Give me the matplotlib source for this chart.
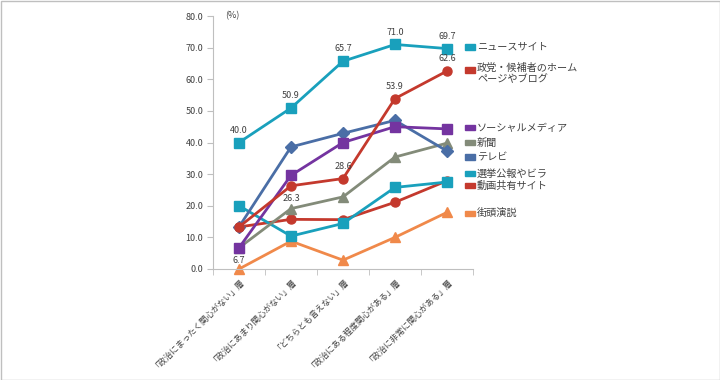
import matplotlib
matplotlib.use('Agg')
import matplotlib.pyplot as plt
from matplotlib.patches import Rectangle

plt.rcParams['font.family'] = ['Noto Sans CJK JP', 'DejaVu Sans']

# カテゴリ
categories = ['「政治にまったく関心がない」層', '「政治にあまり関心がない」層', '「どちらとも言えない」層',
              '「政治にある程度関心がある」層', '「政治に非常に関心がある」層']

# 各系列の値 (%)
news_site = [40.0, 50.9, 65.7, 71.0, 69.7]
party_home = [13.3, 26.3, 28.6, 53.9, 62.6]
social_media = [6.7, 29.6, 40.0, 45.0, 44.3]
newspaper = [6.7, 19.1, 22.8, 35.4, 39.8]
television = [13.3, 38.6, 42.9, 47.0, 37.3]
senkyo_koho = [20.0, 10.4, 14.4, 25.8, 27.5]
douga_site = [13.3, 15.7, 15.6, 21.1, 27.9]
gaito_enzetsu = [0.0, 8.8, 2.8, 10.0, 17.9]

series = [
    ('街頭演説', gaito_enzetsu, '#F0894A', '^'),
    ('動画共有サイト', douga_site, '#C4392D', 'o'),
    ('選挙公報やビラ', senkyo_koho, '#19A0BC', 's'),
    ('新聞', newspaper, '#838B79', '^'),
    ('テレビ', television, '#4A6EA6', 'D'),
    ('ソーシャルメディア', social_media, '#7434A0', 's'),
    ('政党・候補者のホーム\nページやブログ', party_home, '#C4392D', 'o'),
    ('ニュースサイト', news_site, '#19A0BC', 's'),
]

# 凡例の並び (上から) と縦位置 (px)
legend_order = ['ニュースサイト', '政党・候補者のホーム\nページやブログ', 'ソーシャルメディア', '新聞',
                'テレビ', '選挙公報やビラ', '動画共有サイト', '街頭演説']
legend_y = [47, 70, 128, 143, 157, 174, 186, 213]

W, H = 720, 380
fig = plt.figure(figsize=(W / 100, H / 100), dpi=100)
ax = fig.add_axes([213 / W, 1 - 269 / H, 260 / W, 253 / H])

x = list(range(len(categories)))
for name, vals, color, mk in series:
    ms = {'s': 6.5, 'o': 6.5, '^': 7, 'D': 6}[mk]
    ax.plot(x, vals, color=color, lw=2, marker=mk, ms=ms, label=name, clip_on=False)

txt = '#404040'
fs = 6.5
# データラベル
for i in range(5):
    ax.text(x[i], news_site[i] + 2.5, f'{news_site[i]:.1f}', ha='center', va='bottom', fontsize=fs, color=txt)
for i in [2, 3, 4]:
    ax.text(x[i], party_home[i] + 2.5, f'{party_home[i]:.1f}', ha='center', va='bottom', fontsize=fs, color=txt)
ax.text(x[1], party_home[1] - 2.5, f'{party_home[1]:.1f}', ha='center', va='top', fontsize=fs, color=txt)
ax.text(x[0], social_media[0] - 2.5, f'{social_media[0]:.1f}', ha='center', va='top', fontsize=fs, color=txt)

ax.set_xlim(-0.5, 4.5)
ax.set_ylim(0, 80)
ax.set_yticks(range(0, 81, 10))
ax.set_yticklabels([f'{v:.1f}' for v in range(0, 81, 10)], fontsize=6.5, color=txt)
ax.set_xticks(x)
ax.set_xticklabels(categories, rotation=45, ha='right', va='top', rotation_mode='anchor', fontsize=6, color=txt)
for lbl in ax.get_xticklabels():
    lbl.set_x(lbl.get_position()[0])
ax.set_xticks([i - 0.5 for i in range(6)], minor=True)
ax.tick_params(axis='x', which='major', length=0, pad=4)
ax.tick_params(axis='x', which='minor', length=4, color='#BFBFBF', direction='out')
ax.tick_params(axis='y', length=4, color='#BFBFBF', pad=3)
for side in ['top', 'right']:
    ax.spines[side].set_visible(False)
for side in ['left', 'bottom']:
    ax.spines[side].set_color('#BFBFBF')
ax.text(225 / W, 1 - 16 / H, '(%)', transform=fig.transFigure, fontsize=6.5, color=txt, va='center')

# 凡例 (手書き)
colors = {name: color for name, vals, color, mk in series}
for name, yp in zip(legend_order, legend_y):
    fy = 1 - yp / H
    fig.patches.append(Rectangle((465 / W, fy - 2.5 / H), 10 / W, 5 / H, transform=fig.transFigure,
                                 color=colors[name]))
    if '\n' in name:
        fig.text(477 / W, fy + 7 / H, name, fontsize=7.3, color='#404040', va='top', linespacing=1.1)
    else:
        fig.text(477 / W, fy, name, fontsize=7.3, color='#404040', va='center')

# 外枠
fig.patches.append(Rectangle((0.5 / W, 0.5 / H), 1 - 1 / W, 1 - 1 / H, transform=fig.transFigure,
                             fill=False, edgecolor='#BFBFBF', lw=1))

fig.savefig('out.png', dpi=100)
